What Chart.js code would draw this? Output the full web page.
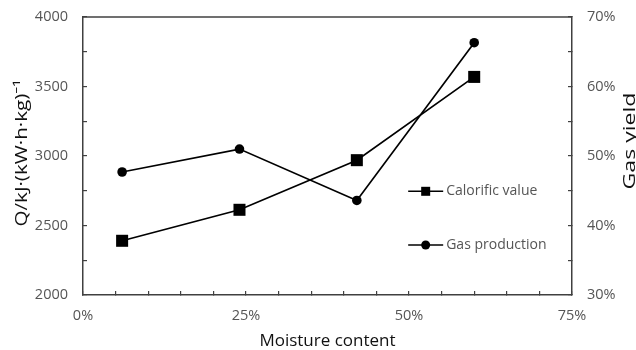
<!DOCTYPE html>
<html>
<head>
<meta charset="utf-8">
<script src="https://cdn.jsdelivr.net/npm/chart.js@4.4.1/dist/chart.umd.min.js"></script>
<style>
  html, body { margin: 0; padding: 0; background: #fff; }
  #wrap { width: 636px; height: 350px; }
</style>
</head>
<body>
<div id="wrap"><canvas id="moisture_chart"></canvas></div>
<script>
/* global Chart */

// moisture content, % (x positions of the samples)
const moisture = [6, 24, 42, 60];
// calorific value, kJ/(kW·h·kg)
const calorific = [2390, 2613, 2970, 3569];
// gas yield, %
const gasYield = [47.7, 51.0, 43.6, 66.3];

const seriesNames = ["Calorific value", "Gas production"];
const xTitle = "Moisture content";
const yTitle = "Q/kJ·(kW·h·kg)⁻¹";
const y1Title = "Gas yield";

const FONT = "'Open Sans', 'Noto Sans', sans-serif";
const AXIS = "#404040";
const TICK_TEXT = "#555555";

const moisture_chart = document.getElementById("moisture_chart");

// vertical title, read bottom-up, stretched along the text to a given length
function drawVerticalTitle(ctx, text, cx, cy, length) {
    ctx.save();
    ctx.font = "17px " + FONT;
    const w = ctx.measureText(text).width;
    ctx.translate(cx, cy);
    ctx.rotate(-Math.PI / 2);
    ctx.scale(length / w, 1);
    ctx.fillStyle = "#111";
    ctx.textAlign = "center";
    ctx.textBaseline = "middle";
    ctx.fillText(text, 0, 0);
    ctx.restore();
}

// box line on top of the plot, legend inside the plot, axis titles on both sides
const framePlugin = {
    id: "frame",
    afterDraw(chart) {
        const { ctx, chartArea } = chart;
        ctx.save();
        ctx.strokeStyle = AXIS;
        ctx.lineWidth = 1.5;
        ctx.beginPath();
        ctx.moveTo(chartArea.left, chartArea.top);
        ctx.lineTo(chartArea.right, chartArea.top);
        ctx.stroke();

        // legend
        const w = chartArea.right - chartArea.left;
        const h = chartArea.bottom - chartArea.top;
        const lx = chartArea.left + w * 0.665;
        const rows = [0.627, 0.82];
        chart.data.datasets.forEach((ds, i) => {
            const y = chartArea.top + h * rows[i];
            ctx.strokeStyle = "#000";
            ctx.lineWidth = 1.6;
            ctx.beginPath();
            ctx.moveTo(lx, y);
            ctx.lineTo(lx + 35, y);
            ctx.stroke();
            ctx.fillStyle = "#000";
            if (ds.pointStyle === "rect") {
                ctx.fillRect(lx + 13, y - 4.5, 9, 9);
            } else {
                ctx.beginPath();
                ctx.arc(lx + 17.5, y, 4.5, 0, Math.PI * 2);
                ctx.fill();
            }
            ctx.fillStyle = TICK_TEXT;
            ctx.font = "14px " + FONT;
            ctx.textBaseline = "middle";
            ctx.textAlign = "left";
            ctx.fillText(ds.label, lx + 38, y);
        });
        ctx.restore();

        const mid = (chartArea.top + chartArea.bottom) / 2;
        drawVerticalTitle(ctx, yTitle, chart.scales.y.left + 22, mid - 3, 147);
        drawVerticalTitle(ctx, y1Title, chart.scales.y1.right - 6, mid - 15, 97);
    },
};

const insideGrid = {
    drawOnChartArea: false,
    drawTicks: true,
    tickLength: -4,
    color: AXIS,
    lineWidth: 1.2,
};

const tickFont = { family: FONT, size: 14.5 };

// fixed axis bands, no extra room for the end labels
function fixBand(size) {
    return (scale) => {
        if (scale.isHorizontal()) {
            scale.height = size;
            scale.paddingLeft = 0;
            scale.paddingRight = 0;
        } else {
            scale.width = size;
            scale.paddingTop = 0;
            scale.paddingBottom = 0;
        }
    };
}

new Chart(moisture_chart, {
    type: "line",
    data: {
        datasets: [
            {
                label: seriesNames[0],
                data: moisture.map((m, i) => ({ x: m, y: calorific[i] })),
                yAxisID: "y",
                borderColor: "#000",
                backgroundColor: "#000",
                borderWidth: 1.7,
                pointStyle: "rect",
                pointRadius: 8.5,
                pointBorderWidth: 0,
            },
            {
                label: seriesNames[1],
                data: moisture.map((m, i) => ({ x: m, y: gasYield[i] })),
                yAxisID: "y1",
                borderColor: "#000",
                backgroundColor: "#000",
                borderWidth: 1.7,
                pointStyle: "circle",
                pointRadius: 4.8,
                pointBorderWidth: 0,
            },
        ],
    },
    options: {
        responsive: true,
        maintainAspectRatio: false,
        animation: false,
        layout: { padding: { top: 17, left: 0, right: 0, bottom: 0 } },
        plugins: {
            legend: { display: false },
            tooltip: { enabled: false },
        },
        scales: {
            x: {
                type: "linear",
                min: 0,
                max: 75,
                grid: insideGrid,
                border: { color: AXIS, width: 1.5 },
                ticks: {
                    stepSize: 5,
                    padding: 16,
                    maxRotation: 0,
                    minRotation: 0,
                    autoSkip: false,
                    color: TICK_TEXT,
                    font: tickFont,
                    callback: (v) => (v % 25 === 0 ? v + "%" : ""),
                },
                title: {
                    display: true,
                    text: xTitle,
                    color: "#111",
                    font: { family: FONT, size: 17, lineHeight: 1 },
                    padding: 0,
                },
                afterFit: fixBand(55),
            },
            y: {
                position: "left",
                min: 2000,
                max: 4000,
                grid: insideGrid,
                border: { color: AXIS, width: 1.5 },
                ticks: {
                    stepSize: 250,
                    padding: 19,
                    autoSkip: false,
                    color: TICK_TEXT,
                    font: tickFont,
                    callback: (v) => (v % 500 === 0 ? v : ""),
                },
                afterFit: fixBand(83),
            },
            y1: {
                position: "right",
                min: 30,
                max: 70,
                grid: insideGrid,
                border: { color: AXIS, width: 1.5 },
                ticks: {
                    stepSize: 5,
                    padding: 19,
                    autoSkip: false,
                    color: TICK_TEXT,
                    font: tickFont,
                    callback: (v) => (v % 10 === 0 ? v + "%" : ""),
                },
                afterFit: fixBand(64),
            },
        },
    },
    plugins: [framePlugin],
});
</script>
</body>
</html>
